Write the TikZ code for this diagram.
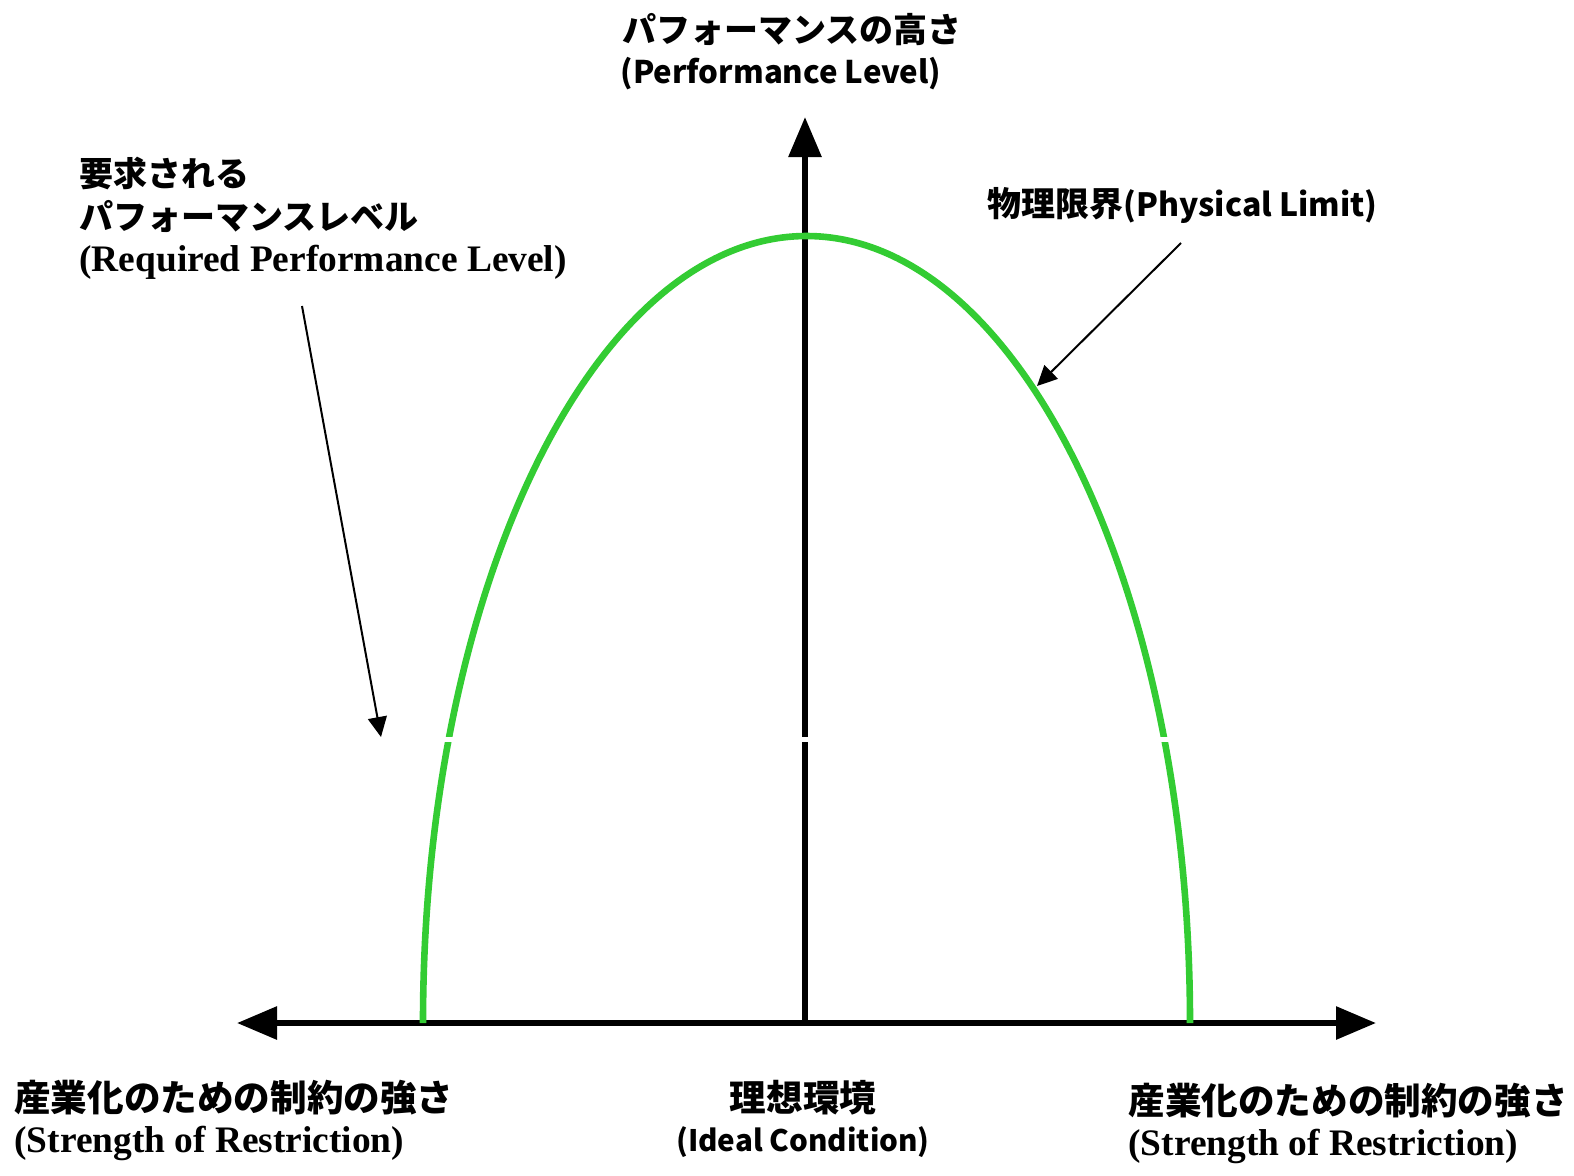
\documentclass[tikz,border=0pt]{standalone}
\usepackage{fontspec}
\usetikzlibrary{arrows.meta}
\newfontfamily\tnr{Liberation Serif}
\newfontfamily\jp{Noto Sans CJK JP}
\definecolor{limitgreen}{RGB}{51,204,51}
\begin{document}
\begin{tikzpicture}[x=0.5pt,y=-0.5pt,
  axis/.style={line width=3pt,-{Triangle[length=20pt,width=16pt]}},
  pointer/.style={line width=1pt,-{Triangle[length=10pt,width=9.5pt]}},
  jtxt/.style={inner sep=0pt,font=\jp\bfseries\fontsize{17}{20}\selectfont},
  jlat/.style={inner sep=0pt,font=\jp\bfseries\fontsize{15.6}{20}\selectfont},
  jbig/.style={inner sep=0pt,font=\jp\bfseries\fontsize{18.3}{21}\selectfont},
  stxt/.style={inner sep=0pt,font=\tnr\bfseries\fontsize{18.7}{21}\selectfont}]
\useasboundingbox (0,0) rectangle (1574,1175);
% serif labels
\node[stxt,anchor=west] (req3) at (79,262) {(Required Performance Level)};
\node[stxt,anchor=west] (bl2) at (14,1143) {(Strength of Restriction)};
\node[stxt,anchor=west] (br2) at (1128,1146) {(Strength of Restriction)};
% axes
\coordinate (O) at (805,1023);
\coordinate (top) at (805,117);
\coordinate (lft) at (237,1023);
\coordinate (rgt) at (1376,1023);
\draw[axis] (O) -- (top);
\draw[axis] (O) -- (lft);
\draw[axis] (O) -- (rgt);
% physical limit curve
\coordinate (cl) at (423,1023);
\draw[line width=3.3pt,limitgreen] (cl) arc[start angle=180,end angle=360,x radius=383.5,y radius=787];
% white gap line
\coordinate (g1) at (425,739.5);
\coordinate (g2) at (1185,739.5);
\draw[white,line width=2.6pt] (g1) -- (g2);
% labels
\node[jtxt] (ttl) at (792,30) {パフォーマンスの高さ};
\node[jlat] (ttle) at (781,74) {(Performance Level)};
\node[jtxt,anchor=west] (req1) at (79,173) {要求される};
\node[jtxt,anchor=west] (req2) at (79,216) {パフォーマンスレベル};
\node[jtxt,anchor=west] (phys) at (987,205) {物理限界{\fontsize{16}{20}\selectfont(Physical Limit)}};
\node[jbig,anchor=west] (bl1) at (14,1098) {産業化のための制約の強さ};
\node[jbig] (bc1) at (803,1098) {理想環境};
\node[jlat,font=\jp\bfseries\fontsize{14.8}{20}\selectfont] (bc2) at (803,1142) {(Ideal Condition)};
\node[jbig,anchor=west] (br1) at (1128,1101) {産業化のための制約の強さ};
% pointers
\coordinate (p1s) at (1181,243);
\coordinate (p1e) at (1037,386);
\draw[pointer] (p1s) -- (p1e);
\coordinate (p2s) at (302,306);
\coordinate (p2e) at (381,737);
\draw[pointer] (p2s) -- (p2e);
\end{tikzpicture}
\end{document}
